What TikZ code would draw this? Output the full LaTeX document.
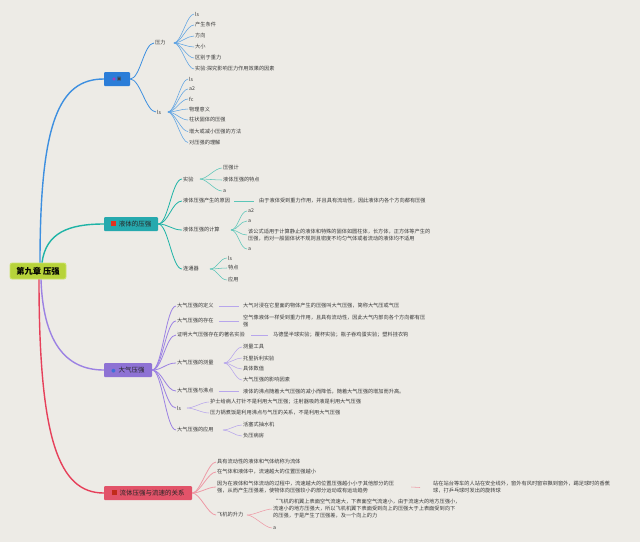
\documentclass[tikz,border=0pt]{standalone}
\usepackage{fontspec}
\setmainfont{Noto Sans CJK SC}
\newfontfamily\dv{DejaVu Sans}
\usetikzlibrary{calc}
\definecolor{cBg}{HTML}{EDEBE6}
\definecolor{cRoot}{HTML}{B7D33A}
\definecolor{cRootB}{HTML}{CDE36E}
\definecolor{cBlue}{HTML}{2B7DD8}
\definecolor{cBlueL}{HTML}{3D8FE0}
\definecolor{cBlueT}{HTML}{5EA3E3}
\definecolor{cTeal}{HTML}{26A9AE}
\definecolor{cTealL}{HTML}{1EB3A6}
\definecolor{cTealT}{HTML}{5CC6B8}
\definecolor{cPurple}{HTML}{8E72D4}
\definecolor{cPurpleL}{HTML}{9C82E3}
\definecolor{cPurpleT}{HTML}{B7A6EC}
\definecolor{cRed}{HTML}{E25369}
\definecolor{cRedL}{HTML}{E6405A}
\definecolor{cRedT}{HTML}{EE9AA6}
\definecolor{cTxt}{HTML}{3A3A3A}
\definecolor{cIconR}{HTML}{E3321F}
\definecolor{cIconP}{HTML}{A040C0}
\definecolor{cIconB}{HTML}{3E6FD8}
\tikzset{
  leaf/.style={anchor=west, inner xsep=1pt, inner ysep=0.5pt, font=\fontsize{5.2}{7}\selectfont, text=cTxt, align=left},
  topic/.style={rectangle, rounded corners=1pt, minimum height=14pt, inner xsep=2pt, font=\fontsize{6.5}{7}\selectfont, text=black!85},
  trunk/.style={line width=1.4pt},
  bough/.style={line width=0.8pt},
  twig/.style={line width=0.55pt},
}
\newcommand\crv[3]{\draw[twig,#1] (#2) .. controls +(7,0) and +(-7,0) .. (#3);}
\newcommand\brv[3]{\draw[bough,#1] (#2) .. controls +(10,0) and +(-10,0) .. (#3);}
\begin{document}
\begin{tikzpicture}[x=1pt,y=-1pt]
\fill[cBg] (0,0) rectangle (640,542);
\useasboundingbox (0,0) rectangle (640,542);

% root
\node[topic, fill=cRoot, draw=cRootB, line width=0.8pt, rounded corners=2pt, minimum width=56pt, minimum height=16pt, font=\fontsize{8.3}{9}\selectfont\bfseries, text=black] (root) at (38,271) {第九章 压强};

% main topics
\node[topic, fill=cBlue, minimum width=26pt] (blue) at (117,79) {{\dv\fontsize{4}{4}\selectfont\textcolor{cIconP}{●}}\,{\dv\fontsize{5}{5}\selectfont\textcolor{black!75}{▣}}};
\node[topic, fill=cTeal, minimum width=54pt] (teal) at (131,224) {\textcolor{cIconR}{\rule{5pt}{5pt}}\hspace{3pt}液体的压强};
\node[topic, fill=cPurple, minimum width=48pt] (purple) at (128,370) {{\dv\fontsize{5}{5}\selectfont\textcolor{cIconB}{●}}\hspace{3pt}大气压强};
\node[topic, fill=cRed, minimum width=88pt] (red) at (148,493) {\textcolor{cIconR!85!black}{\rule{5pt}{5pt}}\hspace{3pt}流体压强与流速的关系};

% trunks
\draw[trunk,cBlueL] ([xshift=2pt]root.north) .. controls +(0,-140) and +(-45,0) .. (blue.west);
\draw[trunk,cTealL] ([xshift=4pt]root.north) .. controls +(4,-30) and +(-35,0) .. (teal.west);
\draw[trunk,cPurpleL] ([xshift=3pt]root.south) .. controls +(2,60) and +(-40,0) .. (purple.west);
\draw[trunk,cRedL] ([xshift=1pt]root.south) .. controls +(0,160) and +(-45,0) .. (red.west);

% ---------- blue branch
\node[leaf] (yali) at (154,43) {压力};
\node[leaf] (yaq) at (156,112) {ls};
\coordinate (fyali) at (174,43);
\coordinate (fyaq) at (168,112);
\brv{cBlueL}{blue.east}{yali.west}
\brv{cBlueL}{blue.east}{yaq.west}
\node[leaf] (b1) at (194,14) {ls};
\node[leaf] (b2) at (194,25) {产生条件};
\node[leaf] (b3) at (194,36) {方向};
\node[leaf] (b4) at (194,47) {大小};
\node[leaf] (b5) at (194,58) {区别于重力};
\node[leaf] (b6) at (194,69) {实验:探究影响压力作用效果的因素};
\foreach \n in {b1,b2,b3,b4,b5,b6}{\crv{cBlueT}{fyali}{\n.west}}
\node[leaf] (c1) at (188,79) {ls};
\node[leaf] (c2) at (188,89) {a2};
\node[leaf] (c3) at (188,99) {fc};
\node[leaf] (c4) at (188,109) {物理意义};
\node[leaf] (c5) at (188,120) {柱状固体的压强};
\node[leaf] (c6) at (188,131.5) {增大或减小压强的方法};
\node[leaf] (c7) at (188,142.5) {对压强的理解};
\foreach \n in {c1,c2,c3,c4,c5,c6,c7}{\crv{cBlueT}{fyaq}{\n.west}}

% ---------- teal branch
\node[leaf] (shiyan) at (182,179) {实验};
\node[leaf] (yuanyin) at (182,201) {液体压强产生的原因};
\node[leaf] (jisuan) at (182,230) {液体压强的计算};
\node[leaf] (liantong) at (182,269) {连通器};
\foreach \n in {shiyan,yuanyin,jisuan,liantong}{\brv{cTealL}{teal.east}{\n.west}}
\coordinate (fshiyan) at (200,179);
\coordinate (fjisuan) at (231,230);
\coordinate (flian) at (210,269);
\node[leaf] (t11) at (222,168) {压强计};
\node[leaf] (t12) at (222,180) {液体压强的特点};
\node[leaf] (t13) at (222,191) {a};
\foreach \n in {t11,t12,t13}{\crv{cTealT}{fshiyan}{\n.west}}
\node[leaf] (t21) at (258,201) {由于液体受到重力作用，并且具有流动性，因此液体内各个方向都有压强};
\draw[twig,cTealT] ([xshift=3pt]yuanyin.east) -- ([xshift=-4pt]t21.west);
\node[leaf] (t31) at (247,211) {a2};
\node[leaf] (t32) at (247,221) {a};
\node[leaf] (t33) at (247,235) {该公式适用于计算静止的液体和特殊的固体如圆柱体，长方体，正方体等产生的\\压强，而对一般固体状不规则且密度不均匀气体或者流动的液体均不适用};
\node[leaf] (t34) at (247,249) {a};
\foreach \n in {t31,t32,t33,t34}{\crv{cTealT}{fjisuan}{\n.west}}
\node[leaf] (t41) at (227,258) {ls};
\node[leaf] (t42) at (227,268) {特点};
\node[leaf] (t43) at (227,280) {应用};
\foreach \n in {t41,t42,t43}{\crv{cTealT}{flian}{\n.west}}

% ---------- purple branch
\node[leaf] (dingyi) at (176,306) {大气压强的定义};
\node[leaf] (cunzai) at (176,321) {大气压强的存在};
\node[leaf] (zhengming) at (176,335) {证明大气压强存在的著名实验};
\node[leaf] (celiang) at (176,363) {大气压强的测量};
\node[leaf] (feidian) at (176,391) {大气压强与沸点};
\node[leaf] (pls) at (176,408) {ls};
\node[leaf] (yingyong) at (176,430) {大气压强的应用};
\foreach \n in {dingyi,cunzai,zhengming,celiang,feidian,pls,yingyong}{\brv{cPurpleL}{purple.east}{\n.west}}
\node[leaf] (p1) at (242,306) {大气对浸在它里面的物体产生的压强叫大气压强，简称大气压或气压};
\draw[twig,cPurpleT] ([xshift=4pt]dingyi.east) -- ([xshift=-3pt]p1.west);
\node[leaf] (p2) at (242,321.5) {空气像液体一样受到重力作用，且具有流动性，因此大气内部向各个方向都有压\\强};
\draw[twig,cPurpleT] ([xshift=4pt]cunzai.east) -- ([xshift=-3pt]p2.west|-cunzai.east);
\node[leaf] (p3) at (272,335) {马德堡半球实验；覆杯实验；瓶子吞鸡蛋实验；塑料挂衣钩};
\draw[twig,cPurpleT] ([xshift=5pt]zhengming.east) -- ([xshift=-4pt]p3.west);
\coordinate (fcel) at (224,363);
\node[leaf] (p41) at (242,347) {测量工具};
\node[leaf] (p42) at (242,358) {托里拆利实验};
\node[leaf] (p43) at (242,369) {具体数值};
\node[leaf] (p44) at (242,380) {大气压强的影响因素};
\foreach \n in {p41,p42,p43,p44}{\crv{cPurpleT}{fcel}{\n.west}}
\node[leaf] (p5) at (242,391.5) {液体的沸点随着大气压强的减小而降低，随着大气压强的增加而升高。};
\draw[twig,cPurpleT] ([xshift=4pt]feidian.east) -- ([xshift=-3pt]p5.west|-feidian.east);
\coordinate (fpls) at (187,408);
\node[leaf] (p61) at (209,402) {护士给病人打针不是利用大气压强；注射器吸药液是利用大气压强};
\node[leaf] (p62) at (209,413) {压力锅煮饭是利用沸点与气压的关系，不是利用大气压强};
\foreach \n in {p61,p62}{\crv{cPurpleT}{fpls}{\n.west}}
\coordinate (fying) at (223,430);
\node[leaf] (p71) at (242,425) {活塞式抽水机};
\node[leaf] (p72) at (242,436) {负压病房};
\foreach \n in {p71,p72}{\crv{cPurpleT}{fying}{\n.west}}

% ---------- red branch
\node[leaf] (r1) at (216,462) {具有流动性的液体和气体统称为流体};
\node[leaf] (r2) at (216,472) {在气体和液体中，流速越大的位置压强越小};
\node[leaf] (r3) at (216,487) {因为在液体和气体流动的过程中，流速越大的位置压强越小小于其他部分的压\\强，从而产生压强差，使物体向压强较小的部分运动或有运动趋势};
\node[leaf] (r4) at (216,515) {飞机的升力};
\foreach \n in {r1,r2,r3,r4}{\draw[bough,cRedT] (red.east) .. controls +(8,0) and +(-8,0) .. (\n.west);}
\node[leaf] (r31) at (432,487.5) {站在站台等车的人站在安全线外，窗外有风时窗帘飘到窗外，踢足球时的香蕉\\球，打乒乓球时发出的旋转球};
\draw[twig,cRedT] ([xshift=16pt]r3.east) -- ([xshift=-12pt]r31.west);
\coordinate (fr4) at (247,515);
\node[leaf] (r41) at (272,509) {“飞机的机翼上表面空气流速大，下表面空气流速小，由于流速大的地方压强小，\\流速小的地方压强大，所以飞机机翼下表面受到向上的压强大于上表面受到向下\\的压强，于是产生了压强差，及一个向上的力};
\node[leaf] (r42) at (272,528) {a};
\foreach \n in {r41,r42}{\crv{cRedT}{fr4}{\n.west}}
\end{tikzpicture}
\end{document}
